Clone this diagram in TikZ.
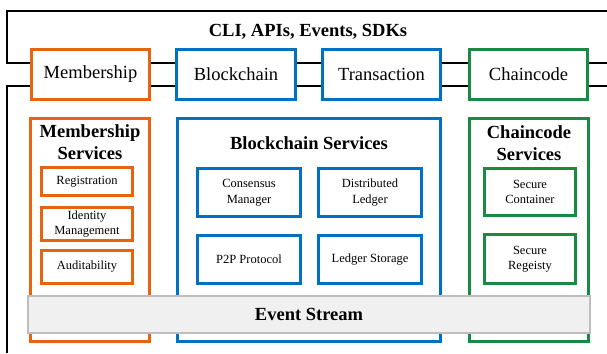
\documentclass[tikz,border=0pt]{standalone}
\usepackage{fontspec}
\setmainfont{Liberation Serif}
\definecolor{orng}{RGB}{230,100,15}
\definecolor{blu}{RGB}{0,112,192}
\definecolor{grn}{RGB}{24,138,66}
\definecolor{evfill}{RGB}{240,240,240}
\definecolor{evline}{RGB}{190,190,190}
\tikzset{
  big/.style={font=\fontsize{18.5}{21}\selectfont},
  bigb/.style={font=\fontsize{18.5}{22}\selectfont\bfseries, align=center},
  small/.style={font=\fontsize{12.5}{15.5}\selectfont, align=center},
  box/.style={draw, fill=white, line width=2.8pt, inner sep=0pt},
  topbox/.style={box, big, minimum height=50pt},
  frame/.style={draw=black, line width=2.8pt},
}
\begin{document}
\begin{tikzpicture}[x=1pt,y=-1pt]
\useasboundingbox[fill=white] (0,0) rectangle (607,353);
% black frames
\draw[frame] (607,11) -- (7,11) -- (7,63) -- (607,63);
\draw[frame] (607,86) -- (7,86) -- (7,353);
\node[bigb] (cli) at (308,32) {CLI, APIs, Events, SDKs};
% top boxes
\node[topbox, draw=orng, minimum width=118pt] (mem) at (90.5,74.5) {Membership};
\node[topbox, draw=blu, minimum width=119pt] (blk) at (236,74.5) {Blockchain};
\node[topbox, draw=blu, minimum width=118pt] (trn) at (381.5,74.5) {Transaction};
\node[topbox, draw=grn, minimum width=118pt] (chc) at (528.5,74.5) {Chaincode};
% service containers
\node[box, draw=orng, minimum width=119pt, minimum height=223pt] (memS) at (90,230) {};
\node[box, draw=blu, minimum width=263pt, minimum height=223pt] (blkS) at (309,230) {};
\node[box, draw=grn, minimum width=119pt, minimum height=223pt] (chcS) at (529,230) {};
\node[bigb] (memT) at (90,142.5) {Membership\\Services};
\node[bigb] (blkT) at (309,143) {Blockchain Services};
\node[bigb] (chcT) at (529,143.5) {Chaincode\\Services};
% membership sub boxes
\node[box, small, draw=orng, minimum width=91pt, minimum height=28pt] (reg) at (87,181.5) {Registration};
\node[box, small, draw=orng, minimum width=91pt, minimum height=33pt] (idm) at (87,224) {Identity\\Management};
\node[box, small, draw=orng, minimum width=91pt, minimum height=33pt] (aud) at (87,267) {Auditability};
% blockchain sub boxes
\node[box, small, draw=blu, minimum width=103pt, minimum height=48pt] (con) at (249,192.5) {Consensus\\Manager};
\node[box, small, draw=blu, minimum width=103pt, minimum height=48pt] (dis) at (370,192.5) {Distributed\\Ledger};
\node[box, small, draw=blu, minimum width=103pt, minimum height=48pt] (p2p) at (249,259.5) {P2P Protocol};
\node[box, small, draw=blu, minimum width=103pt, minimum height=48pt] (lst) at (370,259.5) {Ledger Storage};
% chaincode sub boxes
\node[box, small, draw=grn, minimum width=91pt, minimum height=47pt] (sec) at (530,192) {Secure\\Container};
\node[box, small, draw=grn, minimum width=91pt, minimum height=49pt] (srg) at (530,259) {Secure\\Regeisty};
% event stream
\node[draw=evline, fill=evfill, line width=1.5pt, minimum width=562pt, minimum height=37pt, bigb] (evs) at (309,314.5) {Event Stream};
\end{tikzpicture}
\end{document}
